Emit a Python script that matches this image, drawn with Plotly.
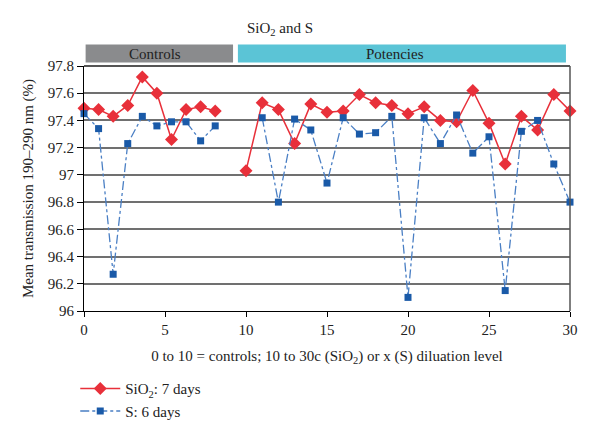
import plotly.graph_objects as go

# ---- data ----
control_x = [0, 0.9, 1.8, 2.7, 3.6, 4.5, 5.4, 6.3, 7.2, 8.1]
potency_x = list(range(10, 31))

sio2_controls = [97.49, 97.48, 97.43, 97.51, 97.72, 97.60, 97.26, 97.48, 97.50, 97.47]
sio2_potencies = [97.03, 97.53, 97.48, 97.23, 97.52, 97.46, 97.47, 97.59, 97.53, 97.51,
                  97.45, 97.50, 97.40, 97.39, 97.62, 97.38, 97.08, 97.43, 97.33, 97.59, 97.47]

s_controls = [97.45, 97.34, 96.27, 97.23, 97.43, 97.36, 97.39, 97.39, 97.25, 97.36]
s_potencies = [None, 97.42, 96.80, 97.41, 97.33, 96.94, 97.42, 97.30, 97.31, 97.43,
               96.10, 97.42, 97.23, 97.44, 97.16, 97.28, 96.15, 97.32, 97.40, 97.08, 96.80]

x_ticks = [0, 5, 10, 15, 20, 25, 30]
y_ticks = [96, 96.2, 96.4, 96.6, 96.8, 97, 97.2, 97.4, 97.6, 97.8]
y_tick_text = ["96", "96.2", "96.4", "96.6", "96.8", "97", "97.2", "97.4", "97.6", "97.8"]

FONT = "Liberation Serif"

x_all = control_x + [None] + potency_x
sio2_all = sio2_controls + [None] + sio2_potencies
s_all = s_controls + [None] + s_potencies

fig = go.Figure()
fig.add_trace(go.Scatter(
    x=x_all, y=sio2_all, mode="lines+markers", name="SiO<sub>2</sub>: 7 days",
    line=dict(color="#e8303a", width=1.5),
    marker=dict(symbol="diamond", size=10, color="#e8303a"),
    connectgaps=False, cliponaxis=False,
))
fig.add_trace(go.Scatter(
    x=x_all, y=s_all, mode="lines+markers", name="S: 6 days",
    line=dict(color="#4a7fc4", width=1.3, dash="dashdot"),
    marker=dict(symbol="square", size=7, color="#1a5aa8"),
    connectgaps=False, cliponaxis=False,
))

# header boxes
fig.add_shape(type="rect", xref="x", yref="paper", x0=0.1, x1=9.2, y0=1.014, y1=1.088,
              fillcolor="#8a8b8d", line=dict(width=0), layer="above")
fig.add_shape(type="rect", xref="x", yref="paper", x0=9.5, x1=29.75, y0=1.014, y1=1.088,
              fillcolor="#5bc4d6", line=dict(width=0), layer="above")
fig.add_annotation(x=4.4, y=1.051, xref="x", yref="paper", text="Controls", showarrow=False,
                   font=dict(family=FONT, size=15, color="#222"), yanchor="middle")
fig.add_annotation(x=19.2, y=1.051, xref="x", yref="paper", text="Potencies", showarrow=False,
                   font=dict(family=FONT, size=15, color="#222"), yanchor="middle")
fig.add_annotation(x=12.1, y=1.153, xref="x", yref="paper", text="SiO<sub>2</sub> and S", showarrow=False,
                   font=dict(family=FONT, size=15, color="#222"), yanchor="middle")

# frame top & right
fig.add_shape(type="line", xref="paper", yref="paper", x0=0, x1=1, y0=1, y1=1,
              line=dict(color="#555", width=2))
fig.add_shape(type="line", xref="paper", yref="paper", x0=1, x1=1, y0=0, y1=1,
              line=dict(color="#555", width=1.5))

fig.update_xaxes(range=[0, 30], tickvals=x_ticks, ticks="outside", ticklen=5, tickcolor="#000",
                 showline=True, linecolor="#000", linewidth=1.2, showgrid=False, zeroline=False,
                 automargin=False,
                 tickfont=dict(family=FONT, size=15, color="#222"),
                 title=dict(text="0 to 10 = controls; 10 to 30c (SiO<sub>2</sub>) or x (S) diluation level",
                            font=dict(family=FONT, size=15, color="#222"), standoff=13))
fig.update_yaxes(range=[96, 97.8], tickvals=y_ticks, ticktext=y_tick_text, ticks="outside", ticklen=6,
                 tickcolor="#000", showline=True, linecolor="#000", linewidth=1.2,
                 showgrid=True, gridcolor="#707070", gridwidth=2, zeroline=False,
                 automargin=False,
                 tickfont=dict(family=FONT, size=15, color="#222"),
                 title=dict(text="Mean transmission 190–290 nm (%)",
                            font=dict(family=FONT, size=15, color="#222"), standoff=10))

fig.update_layout(
    width=600, height=435,
    margin=dict(l=76, r=38, t=58, b=132, autoexpand=False),
    paper_bgcolor="white", plot_bgcolor="white",
    showlegend=True,
    legend=dict(x=-0.018, y=-0.25, xanchor="left", yanchor="top", orientation="v",
                font=dict(family=FONT, size=15, color="#222"), bgcolor="rgba(0,0,0,0)",
                itemwidth=40, tracegroupgap=2),
)

fig.write_html("out.html")
